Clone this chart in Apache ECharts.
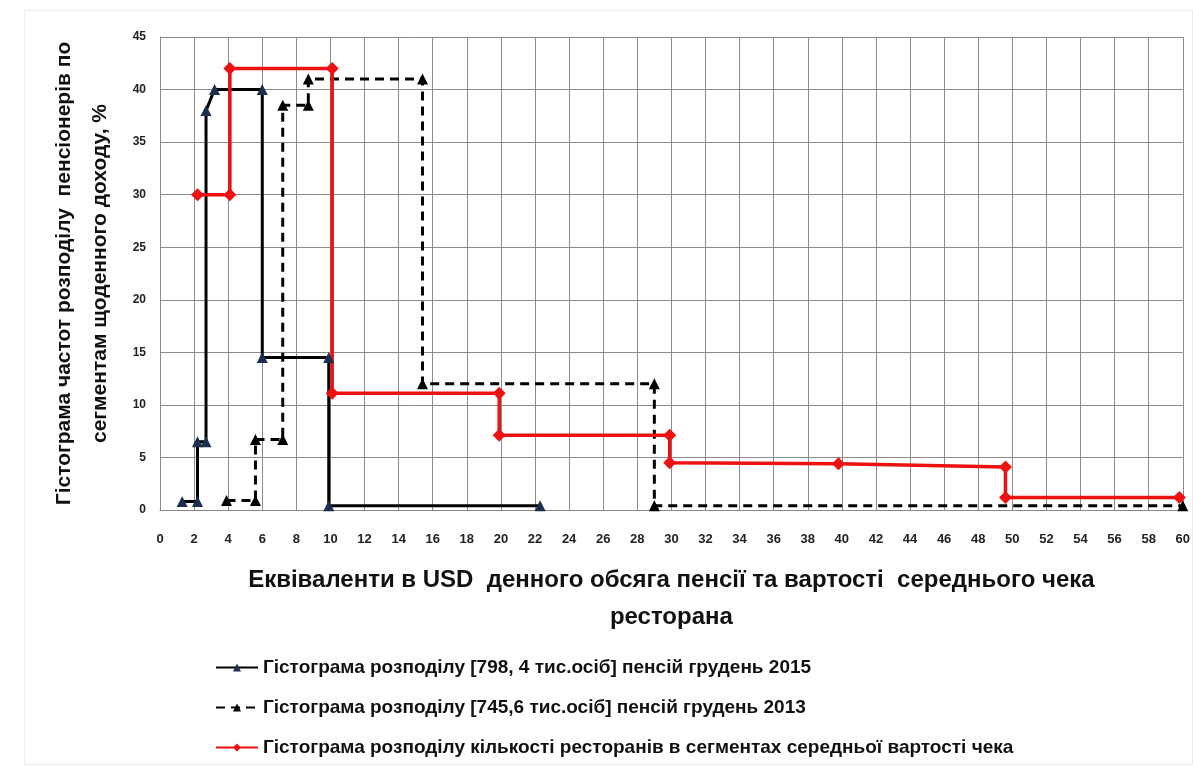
<!DOCTYPE html>
<html>
<head>
<meta charset="utf-8">
<script src="https://cdn.jsdelivr.net/npm/echarts@6/dist/echarts.min.js"></script>
<style>
html,body{margin:0;padding:0;background:#fff;}
#main{width:1193px;height:766px;}
</style>
</head>
<body>
<div id="main"></div>
<script>
// Series: [x (USD), y (%)] step-histogram points
const pensions2015 = [[1.3,0.8],[2.2,0.8],[2.2,6.5],[2.7,6.5],[2.7,38],[3.2,40],[6.0,40],[6.0,14.5],[9.9,14.5],[9.9,0.4],[22.3,0.4]];
const pensions2013 = [[3.9,0.9],[5.6,0.9],[5.6,6.7],[7.2,6.7],[7.2,38.5],[8.7,38.5],[8.7,41],[15.4,41],[15.4,12],[29.0,12],[29.0,0.4],[60,0.4]];
const restaurants = [[2.2,30],[4.1,30],[4.1,42],[10.1,42],[10.1,11.1],[19.9,11.1],[19.9,7.1],[29.9,7.1],[29.9,4.5],[39.8,4.4],[49.6,4.1],[49.6,1.2],[59.8,1.2]];

const seriesNames = [
  'Гістограма розподілу [798, 4 тис.осіб] пенсій грудень 2015',
  'Гістограма розподілу [745,6 тис.осіб] пенсій грудень 2013',
  'Гістограма розподілу кількості ресторанів в сегментах середньої вартості чека'
];
const xTitle = 'Еквіваленти в USD  денного обсяга пенсії та вартості  середнього чека\nресторана';
const yTitle = 'Гістограма частот розподілу  пенсіонерів по\nсегментам щоденного доходу, %';

const chart = echarts.init(document.getElementById('main'));
const FONT = '"Liberation Sans", Arial, sans-serif';
chart.setOption({
  backgroundColor: '#fff',
  animation: false,
  graphic: [{
    type: 'rect', left: 22, top: 8, shape: {width: 1168, height: 754},
    style: {fill: 'none', stroke: '#ececec', lineWidth: 1}, silent: true
  }],
  grid: {left: 160, right: 10, top: 37, bottom: 256, containLabel: false},
  xAxis: {
    type: 'value', min: 0, max: 60, interval: 2,
    name: xTitle, nameLocation: 'middle', nameGap: 52,
    nameTextStyle: {fontFamily: FONT, fontWeight: 'bold', fontSize: 24, color: '#111', lineHeight: 37},
    axisLine: {show: true, lineStyle: {color: '#888', width: 1}},
    axisTick: {show: false},
    axisLabel: {fontFamily: FONT, fontWeight: 'bold', fontSize: 13, color: '#222', margin: 23},
    splitLine: {show: true, lineStyle: {color: '#8c8c8c', width: 1}}
  },
  yAxis: {
    type: 'value', min: 0, max: 45, interval: 5,
    name: yTitle, nameLocation: 'middle', nameGap: 42,
    nameTextStyle: {fontFamily: FONT, fontWeight: 'bold', fontSize: 21, color: '#111', lineHeight: 36},
    axisLine: {show: true, lineStyle: {color: '#888', width: 1}},
    axisTick: {show: false},
    axisLabel: {fontFamily: FONT, fontWeight: 'bold', fontSize: 12, color: '#222', margin: 14},
    splitLine: {show: true, lineStyle: {color: '#8c8c8c', width: 1}}
  },
  legend: {
    orient: 'vertical', left: 210, top: 653, itemGap: 21,
    itemWidth: 42, itemHeight: 10,
    textStyle: {fontFamily: FONT, fontWeight: 'bold', fontSize: 19, color: '#111'},
    data: seriesNames
  },
  series: [
    {
      name: seriesNames[0], type: 'line', data: pensions2015,
      symbol: 'triangle', symbolSize: 11, showAllSymbol: true,
      lineStyle: {color: '#000', width: 3},
      itemStyle: {color: '#1b2f4e'}
    },
    {
      name: seriesNames[1], type: 'line', data: pensions2013,
      symbol: 'triangle', symbolSize: 11, showAllSymbol: true,
      lineStyle: {color: '#000', width: 3, type: [9, 6]},
      itemStyle: {color: '#000'}
    },
    {
      name: seriesNames[2], type: 'line', data: restaurants,
      symbol: 'diamond', symbolSize: 13, showAllSymbol: true,
      lineStyle: {color: '#ee1111', width: 3.5},
      itemStyle: {color: '#ee1111'}
    }
  ]
});
</script>
</body>
</html>
